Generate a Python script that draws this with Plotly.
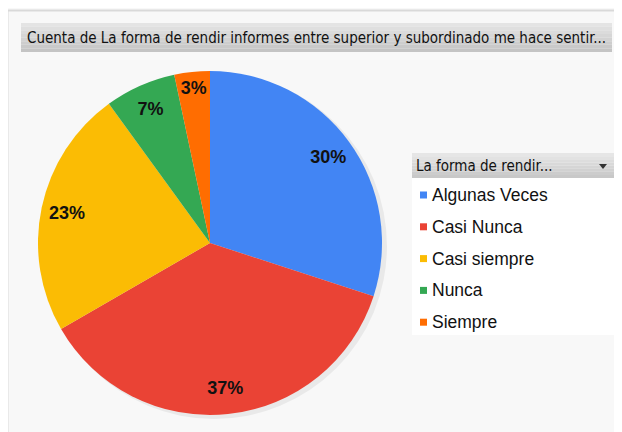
import plotly.graph_objects as go

# datos
categorias = ['Algunas Veces', 'Casi Nunca', 'Casi siempre', 'Nunca', 'Siempre']
cuentas = [9, 11, 7, 2, 1]
colores = ['#4285F4', '#EA4335', '#FBBC04', '#34A853', '#FF6D01']
titulo = 'Cuenta de La forma de rendir informes entre superior y subordinado me hace sentir...'
titulo_leyenda = 'La forma de rendir...'

W, H = 622, 432
OFF = 8  # margen del body de la pagina

def px(x):
    return (x - OFF) / W

def py(y):
    return 1 - (y - OFF) / H

dominio = dict(x=[px(38), px(382)], y=[py(415), py(71)])

fig = go.Figure()

# pastel
fig.add_trace(go.Pie(
    labels=categorias,
    values=cuentas,
    sort=False,
    direction='clockwise',
    rotation=0,
    marker=dict(colors=colores, line=dict(width=0)),
    textinfo='none',
    domain=dominio,
    showlegend=False,
    hoverinfo='label+value+percent',
))

# etiquetas de porcentaje (anillo transparente para llevarlas hacia el borde)
fig.add_trace(go.Pie(
    labels=categorias,
    values=cuentas,
    sort=False,
    direction='clockwise',
    rotation=0,
    hole=0.7,
    marker=dict(colors=['rgba(0,0,0,0)'] * len(categorias), line=dict(width=0)),
    texttemplate='%{percent:.0%}',
    textposition='inside',
    insidetextorientation='horizontal',
    textfont=dict(family='Liberation Sans, Arial', size=18, color='#111111', weight='bold'),
    domain=dominio,
    showlegend=False,
    hoverinfo='skip',
))

shapes = []
# marco exterior
shapes.append(dict(type='line', xref='paper', yref='paper', x0=px(7.5), x1=px(7.5), y0=py(10), y1=py(440),
                   line=dict(color='#d9d9d9', width=2)))
shapes.append(dict(type='line', xref='paper', yref='paper', x0=px(7), x1=px(630), y0=py(10.5), y1=py(10.5),
                   line=dict(color='#d9d9d9', width=2)))
# sombra del pastel
shapes.append(dict(type='circle', xref='paper', yref='paper', layer='below',
                   x0=px(41), x1=px(387), y0=py(419), y1=py(73),
                   fillcolor='rgba(0,0,0,0.06)', line=dict(width=0)))

# caja con degradado aproximado
def caja_degradado(x0, x1, y0, y1, c_top, c_bot, n=8):
    def mix(t):
        a = [int(c_top[i:i + 2], 16) for i in (1, 3, 5)]
        b = [int(c_bot[i:i + 2], 16) for i in (1, 3, 5)]
        return 'rgb(%d,%d,%d)' % tuple(round(a[k] + (b[k] - a[k]) * t) for k in range(3))
    h = (y1 - y0) / n
    out = []
    for i in range(n):
        out.append(dict(type='rect', xref='paper', yref='paper', layer='below',
                        x0=px(x0), x1=px(x1), y0=py(y0 + h * (i + 1)), y1=py(y0 + h * i),
                        fillcolor=mix(i / (n - 1)), line=dict(width=0)))
    return out

shapes += caja_degradado(21, 612, 23, 52, '#e4e4e4', '#c4c4c4')

# leyenda
shapes.append(dict(type='rect', xref='paper', yref='paper', layer='below',
                   x0=px(412), x1=px(615), y0=py(335), y1=py(178),
                   fillcolor='white', line=dict(width=0)))
shapes += caja_degradado(412, 615, 153, 178, '#e6e6e6', '#c8c8c8')
shapes.append(dict(type='path', xref='paper', yref='paper',
                   path='M %f %f L %f %f L %f %f Z' % (px(599), py(164), px(607), py(164), px(603), py(169)),
                   fillcolor='#333333', line=dict(width=0)))

annotations = [
    dict(text=titulo, xref='paper', yref='paper', x=px(25), y=py(38), xanchor='left', yanchor='middle',
         showarrow=False, font=dict(family='DejaVu Sans Condensed', size=15, color='#111111')),
    dict(text=titulo_leyenda, xref='paper', yref='paper', x=px(414), y=py(166), xanchor='left', yanchor='middle',
         showarrow=False, font=dict(family='DejaVu Sans Condensed', size=15, color='#111111')),
]

for i, (cat, col) in enumerate(zip(categorias, colores)):
    yc = 195 + i * 31.8
    shapes.append(dict(type='rect', xref='paper', yref='paper',
                       x0=px(420), x1=px(427), y0=py(yc + 3.5), y1=py(yc - 3.5),
                       fillcolor=col, line=dict(width=0)))
    annotations.append(dict(text=cat, xref='paper', yref='paper', x=px(430), y=py(yc), xanchor='left',
                            yanchor='middle', showarrow=False,
                            font=dict(family='Liberation Sans, Arial', size=17.5, color='#111111')))

fig.update_layout(
    width=W, height=H,
    margin=dict(l=0, r=0, t=0, b=0),
    paper_bgcolor='#f8f8f8',
    plot_bgcolor='#f8f8f8',
    shapes=shapes,
    annotations=annotations,
    showlegend=False,
)

fig.write_html('out.html')
